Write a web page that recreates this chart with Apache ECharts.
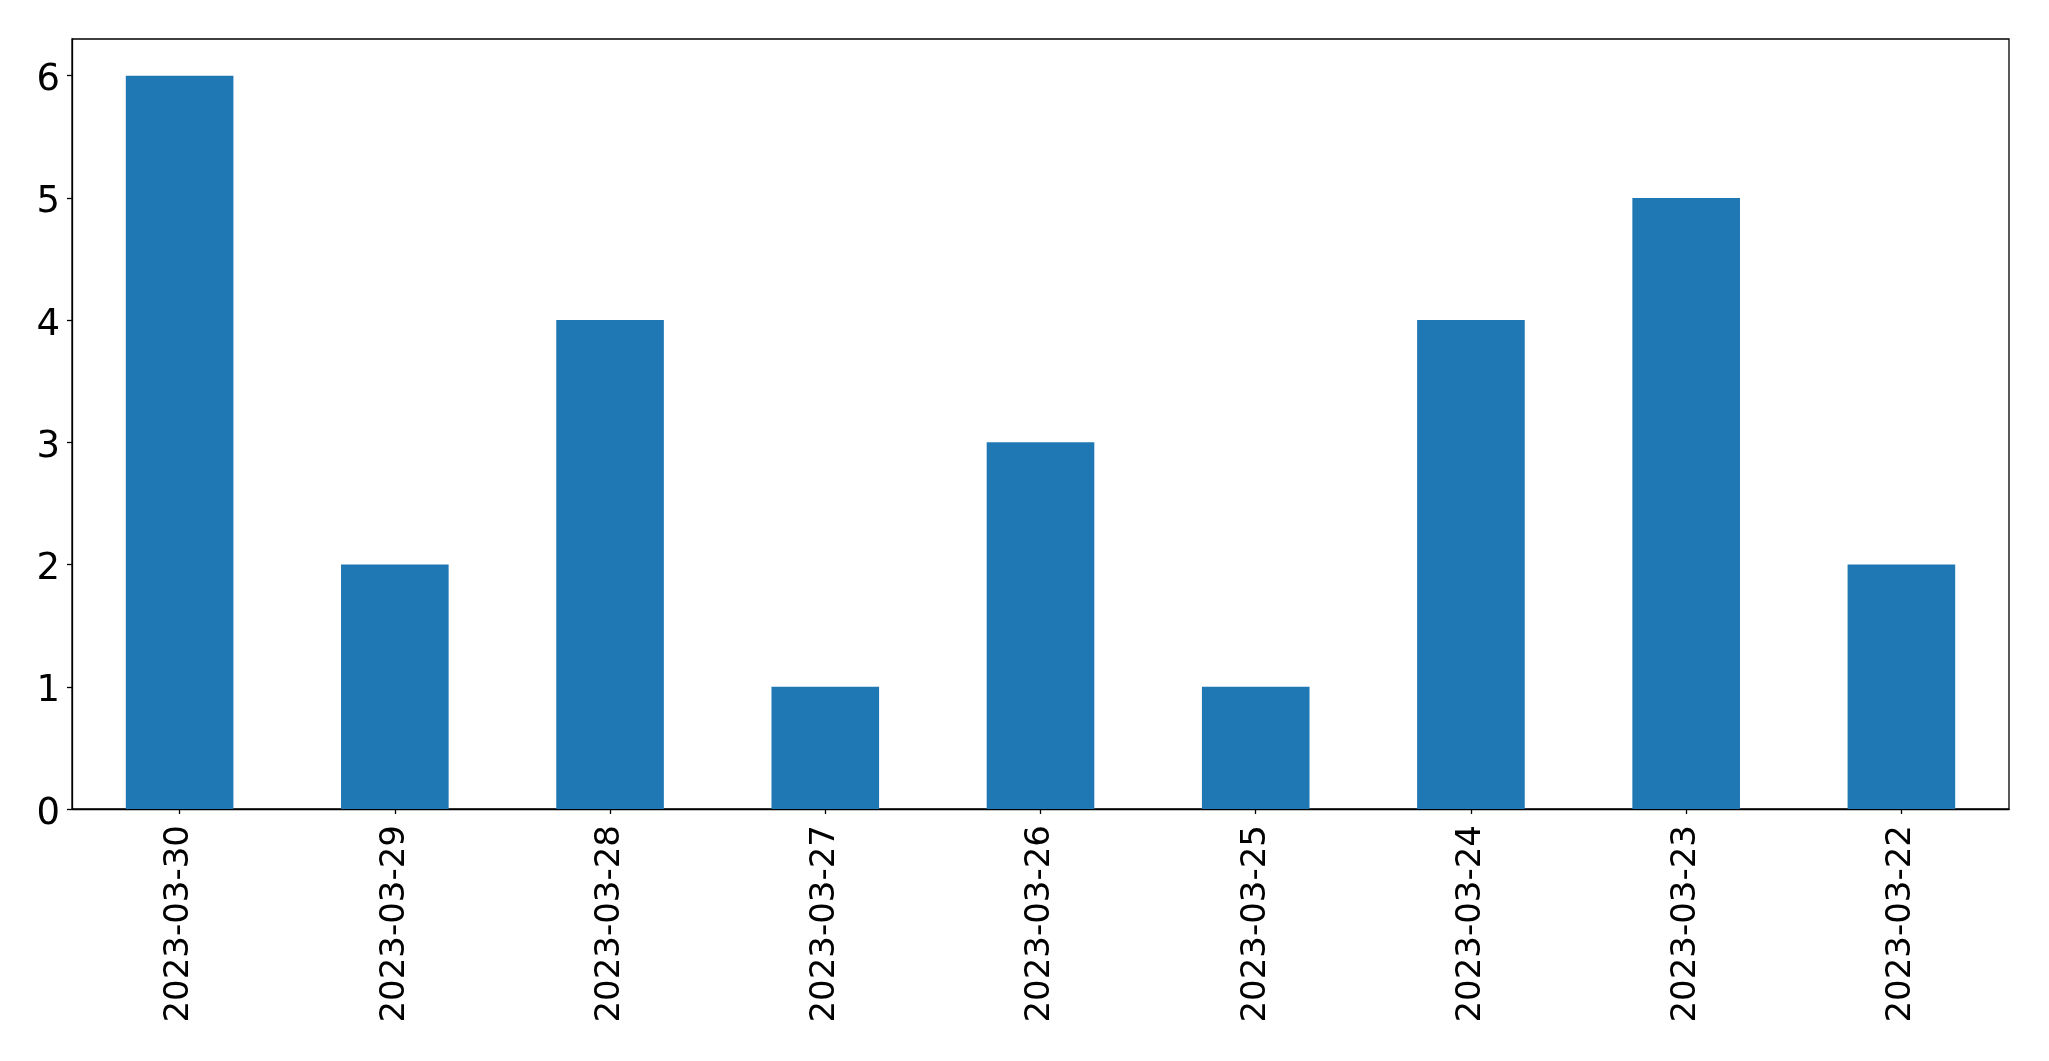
<!DOCTYPE html>
<html>
<head>
<meta charset="utf-8">
<script src="https://cdn.jsdelivr.net/npm/echarts@6/dist/echarts.min.js"></script>
<style>html,body{margin:0;padding:0;background:#fff}#c{width:2049px;height:1061px}</style>
</head>
<body>
<div id="c"></div>
<script>
var categories = ['2023-03-30','2023-03-29','2023-03-28','2023-03-27','2023-03-26','2023-03-25','2023-03-24','2023-03-23','2023-03-22'];
var values = [6, 2, 4, 1, 3, 1, 4, 5, 2];
var yTicks = [0, 1, 2, 3, 4, 5, 6];

var chart = echarts.init(document.getElementById('c'));
chart.setOption({
  animation: false,
  backgroundColor: '#fff',
  textStyle: { fontFamily: 'DejaVu Sans' },
  grid: { left: 72, top: 39, right: 40, bottom: 252, show: true, borderColor: '#000', borderWidth: 1.3, backgroundColor: 'transparent' },
  xAxis: {
    type: 'category',
    data: categories,
    boundaryGap: true,
    axisLine: { show: true, lineStyle: { color: '#000', width: 1.3 } },
    axisTick: { show: true, alignWithLabel: true, length: 5, lineStyle: { color: '#000', width: 1.3 } },
    axisLabel: { rotate: 90, margin: 16, fontSize: 34, color: '#000', fontFamily: 'DejaVu Sans', interval: 0 },
    splitLine: { show: false }
  },
  yAxis: {
    type: 'value',
    min: 0, max: 6.3, interval: 1,
    axisLine: { show: true, lineStyle: { color: '#000', width: 1.3 } },
    axisTick: { show: true, length: 5, customValues: yTicks, lineStyle: { color: '#000', width: 1.3 } },
    axisLabel: {
      margin: 12, color: '#000', fontFamily: 'DejaVu Sans', customValues: yTicks,
      formatter: '{v|{value}}',
      rich: { v: { fontSize: 37, color: '#000', fontFamily: 'DejaVu Sans', padding: [10, 0, 0, 0] } }
    },
    splitLine: { show: false }
  },
  series: [{
    type: 'bar',
    data: values,
    barWidth: '50%',
    itemStyle: { color: '#1f77b4' }
  }]
});
</script>
</body>
</html>
